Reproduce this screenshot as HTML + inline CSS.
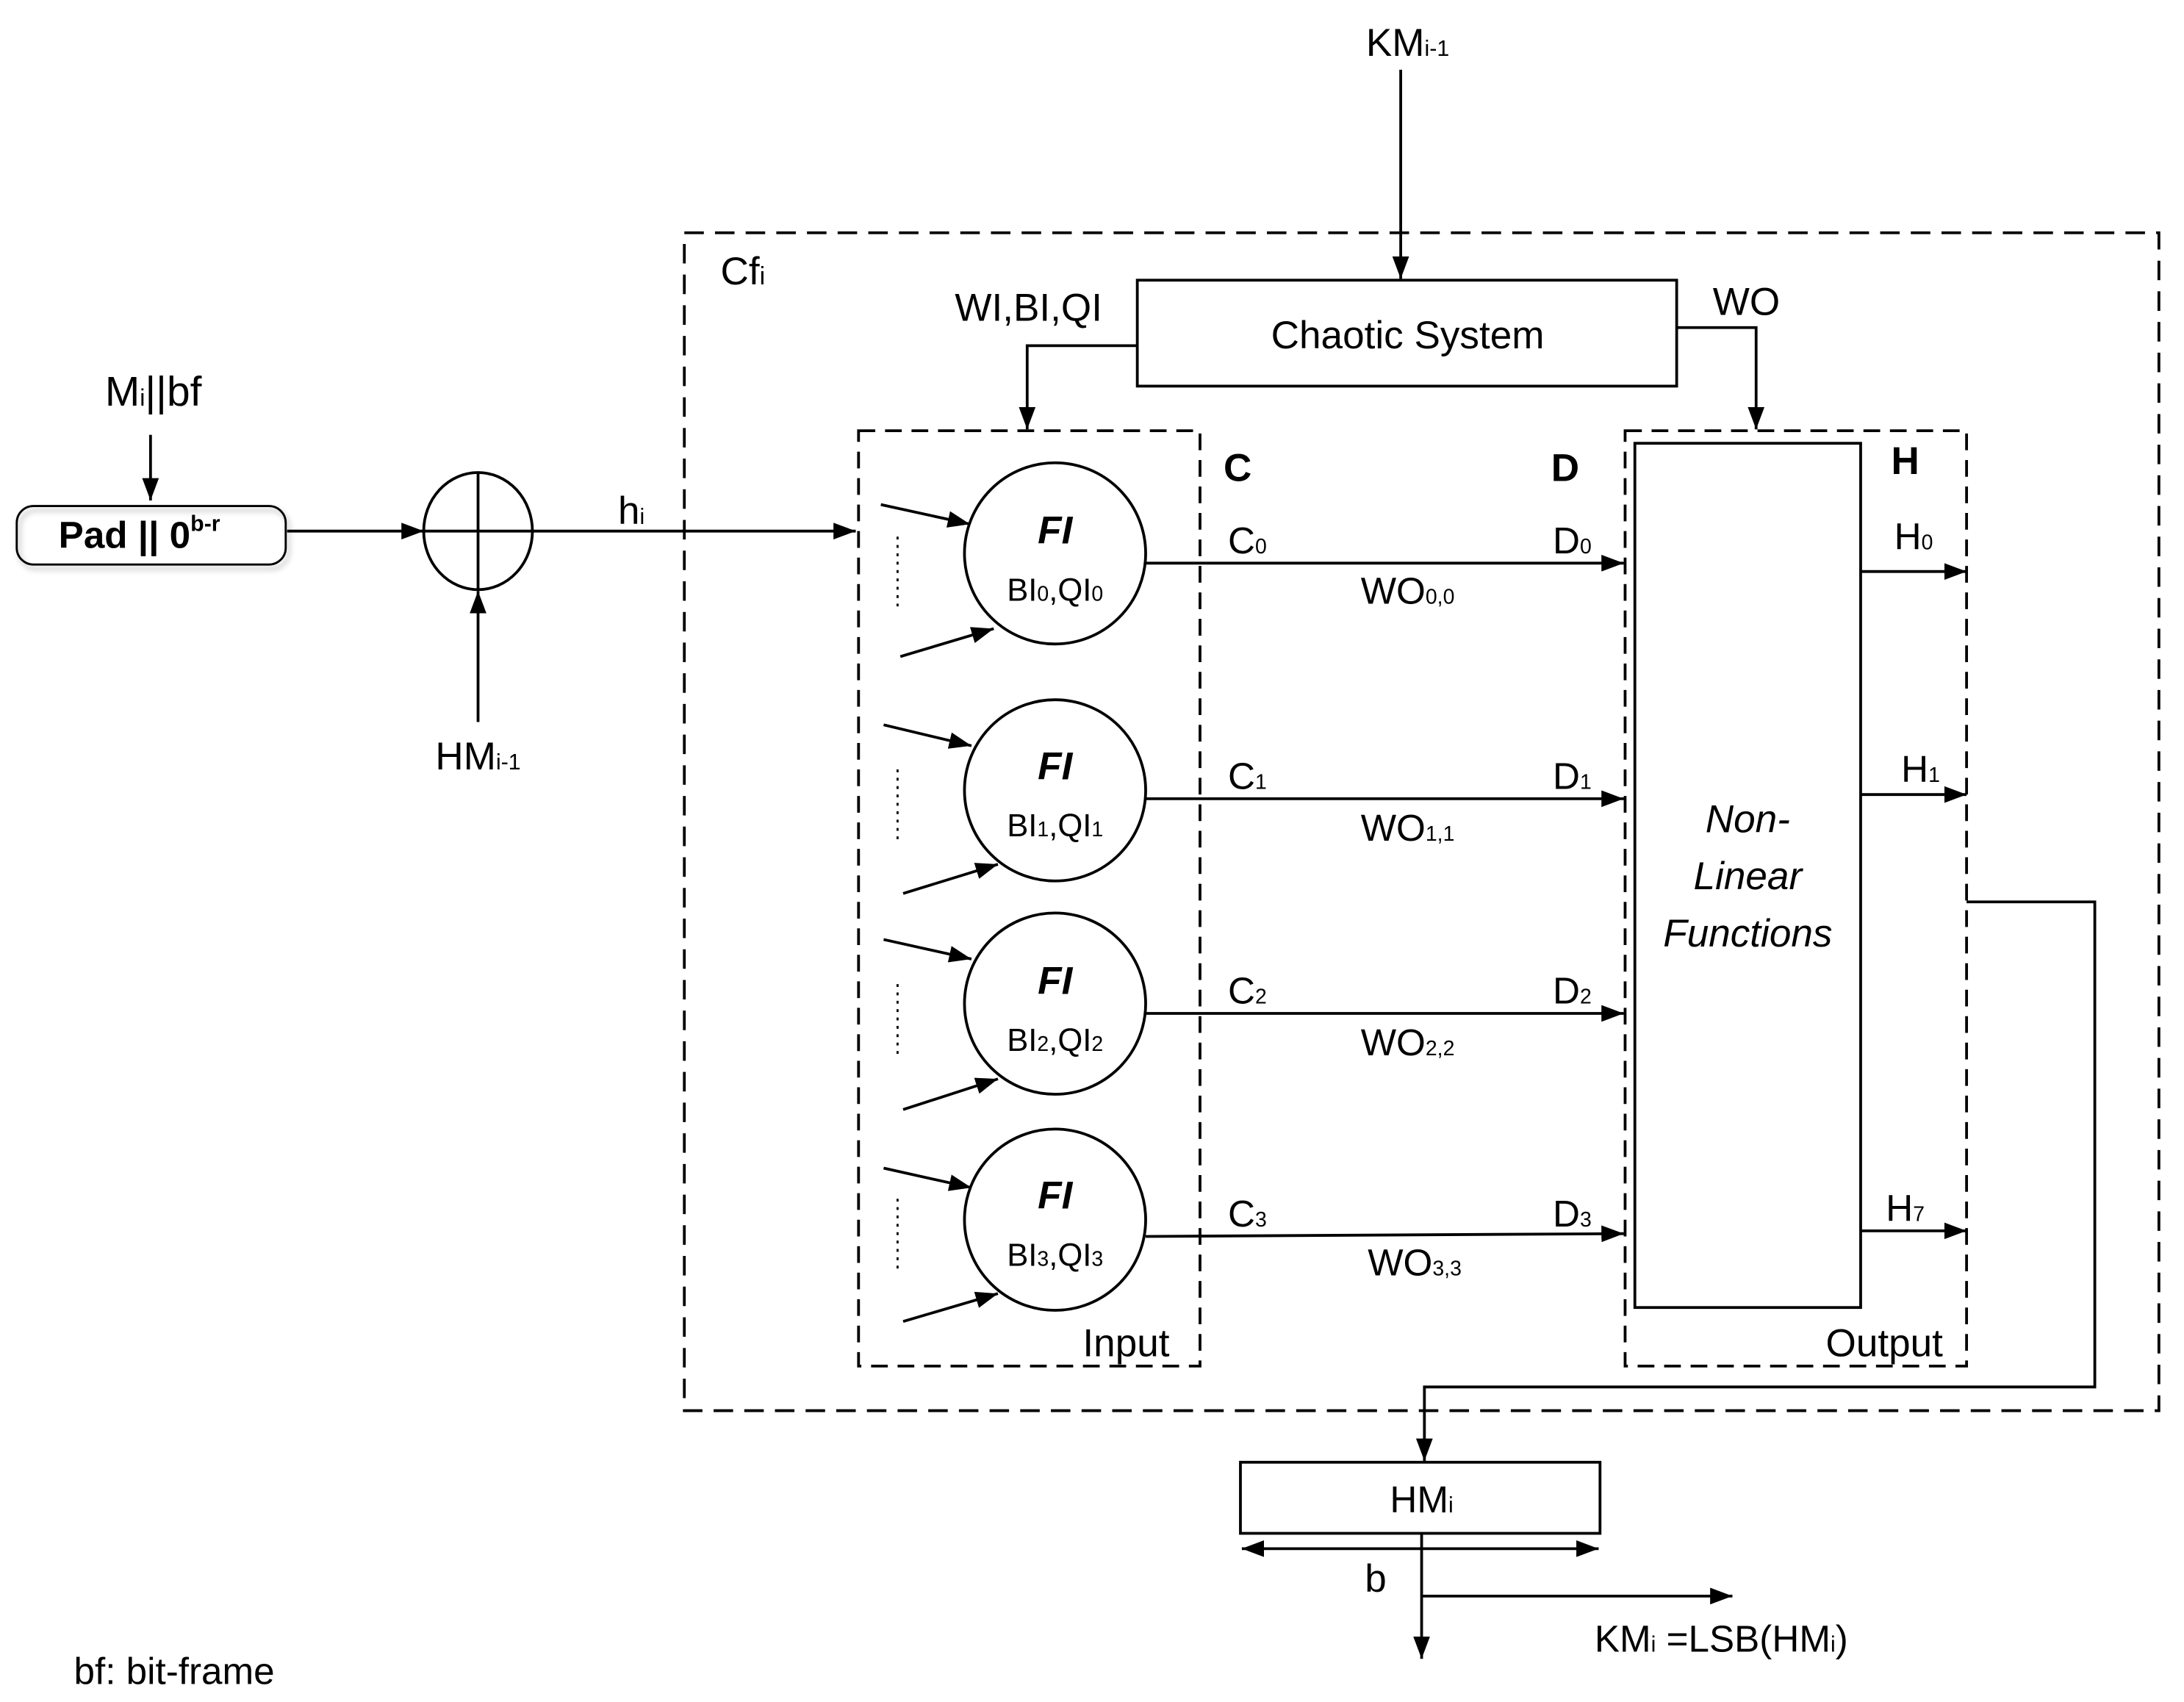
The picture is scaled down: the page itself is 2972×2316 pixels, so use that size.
<!DOCTYPE html>
<html><head><meta charset="utf-8"><style>
html,body{margin:0;padding:0;background:#fff;}
svg{display:block;}
text{font-family:"Liberation Sans",sans-serif;fill:#000;}
</style></head><body>
<svg width="2972" height="2316" viewBox="0 0 1567 1221" preserveAspectRatio="none" xmlns="http://www.w3.org/2000/svg">
<defs>
<marker id="b" markerWidth="16" markerHeight="12" refX="16" refY="6" orient="auto" markerUnits="userSpaceOnUse" viewBox="0 0 16 12">
<path d="M0,0 L16,6 L0,12 z" fill="#000"/></marker>
<marker id="bs" markerWidth="16" markerHeight="12" refX="0" refY="6" orient="auto" markerUnits="userSpaceOnUse" viewBox="0 0 16 12">
<path d="M16,0 L0,6 L16,12 z" fill="#000"/></marker>
<filter id="sh" x="-10%" y="-20%" width="130%" height="160%"><feDropShadow dx="2" dy="3" stdDeviation="2" flood-opacity="0.3"/></filter>
</defs>
<g fill="none" stroke="#000" stroke-width="2">
<rect x="491" y="167" width="1058" height="845" stroke-dasharray="14,8"/>
<rect x="616" y="309" width="245" height="671" stroke-dasharray="12,7"/>
<rect x="1166" y="309" width="245" height="671" stroke-dasharray="12,7"/>
<rect x="1173" y="318" width="162" height="620"/>
<rect x="816" y="201" width="387" height="76"/>
<line x1="1005" y1="50" x2="1005" y2="200" marker-end="url(#b)"/>
<polyline points="816,248 737,248 737,308" marker-end="url(#b)"/>
<polyline points="1203,235 1260,235 1260,308" marker-end="url(#b)"/>
<rect x="12" y="363" width="193" height="42" rx="12" filter="url(#sh)" stroke-width="1.5"/>
<line x1="108" y1="312" x2="108" y2="359" marker-end="url(#b)"/>
<line x1="206" y1="381" x2="304" y2="381" marker-end="url(#b)"/>
<ellipse cx="343" cy="381" rx="39" ry="42"/>
<line x1="304" y1="381" x2="382" y2="381"/>
<line x1="343" y1="339" x2="343" y2="423"/>
<line x1="382" y1="381" x2="614" y2="381" marker-end="url(#b)"/>
<line x1="343" y1="518" x2="343" y2="424" marker-end="url(#b)"/>
<circle cx="757" cy="397" r="65"/>
<circle cx="757" cy="567" r="65"/>
<circle cx="757" cy="720" r="65"/>
<circle cx="757" cy="875" r="65"/>
<line x1="632" y1="362" x2="696" y2="376" marker-end="url(#b)"/>
<line x1="646" y1="471" x2="713" y2="451" marker-end="url(#b)"/>
<line x1="634" y1="520" x2="697" y2="535" marker-end="url(#b)"/>
<line x1="648" y1="641" x2="716" y2="620" marker-end="url(#b)"/>
<line x1="634" y1="674" x2="697" y2="688" marker-end="url(#b)"/>
<line x1="648" y1="796" x2="716" y2="774" marker-end="url(#b)"/>
<line x1="634" y1="838" x2="697" y2="852" marker-end="url(#b)"/>
<line x1="648" y1="948" x2="716" y2="928" marker-end="url(#b)"/>
<g stroke-dasharray="2,4" stroke-width="1.5">
<line x1="644" y1="385" x2="644" y2="438"/>
<line x1="644" y1="552" x2="644" y2="605"/>
<line x1="644" y1="706" x2="644" y2="760"/>
<line x1="644" y1="860" x2="644" y2="914"/>
</g>
<line x1="822" y1="404" x2="1165" y2="404" marker-end="url(#b)"/>
<line x1="822" y1="573" x2="1165" y2="573" marker-end="url(#b)"/>
<line x1="822" y1="727" x2="1165" y2="727" marker-end="url(#b)"/>
<line x1="822" y1="887" x2="1165" y2="885" marker-end="url(#b)"/>
<line x1="1335" y1="410" x2="1411" y2="410" marker-end="url(#b)"/>
<line x1="1335" y1="570" x2="1411" y2="570" marker-end="url(#b)"/>
<line x1="1335" y1="883" x2="1411" y2="883" marker-end="url(#b)"/>
<polyline points="1411,647 1503,647 1503,995 1022,995 1022,1048" marker-end="url(#b)"/>
<rect x="890" y="1049" width="258" height="51"/>
<line x1="891" y1="1111" x2="1147" y2="1111" marker-start="url(#bs)" marker-end="url(#b)"/>
<line x1="1020" y1="1100" x2="1020" y2="1190" marker-end="url(#b)"/>
<line x1="1020" y1="1145" x2="1243" y2="1145" marker-end="url(#b)"/>
</g>
<g font-size="28" text-anchor="middle">
<text x="1010" y="40">KM<tspan font-size="16">i-1</tspan></text>
<text x="1010" y="250">Chaotic System</text>
<text x="738" y="230">WI,BI,QI</text>
<text x="1253" y="226">WO</text>
<text x="533" y="204">Cf<tspan font-size="18">i</tspan></text>
<text x="110" y="291" font-size="30">M<tspan font-size="17">i</tspan>||bf</text>
<text x="100" y="393" font-weight="bold" font-size="27">Pad || 0<tspan font-size="16" dy="-12">b-r</tspan></text>
<text x="453" y="376">h<tspan font-size="16">i</tspan></text>
<text x="343" y="552">HM<tspan font-size="16">i-1</tspan></text>
<text x="888" y="345" font-weight="bold">C</text>
<text x="1123" y="345" font-weight="bold">D</text>
<text x="1367" y="340" font-weight="bold">H</text>
<text x="808" y="973">Input</text>
<text x="1352" y="973">Output</text>
<text x="1254" y="597" font-style="italic">Non-</text>
<text x="1254" y="638" font-style="italic">Linear</text>
<text x="1254" y="679" font-style="italic">Functions</text>
<text x="1020" y="1085" font-size="27">HM<tspan font-size="16">i</tspan></text>
<text x="987" y="1142">b</text>
<text x="1235" y="1185" font-size="27">KM<tspan font-size="16">i</tspan> =LSB(HM<tspan font-size="16">i</tspan>)</text>
<text x="125" y="1208" font-size="27">bf: bit-frame</text>
</g>
<g text-anchor="middle">
<g font-size="28" font-weight="bold" font-style="italic">
<text x="757" y="390">FI</text><text x="757" y="559">FI</text>
<text x="757" y="713">FI</text><text x="757" y="867">FI</text>
</g>
<g font-size="23">
<text x="757" y="431">BI<tspan font-size="15">0</tspan>,QI<tspan font-size="15">0</tspan></text>
<text x="757" y="600">BI<tspan font-size="15">1</tspan>,QI<tspan font-size="15">1</tspan></text>
<text x="757" y="754">BI<tspan font-size="15">2</tspan>,QI<tspan font-size="15">2</tspan></text>
<text x="757" y="908">BI<tspan font-size="15">3</tspan>,QI<tspan font-size="15">3</tspan></text>
</g>
<g font-size="27">
<text x="895" y="397">C<tspan font-size="15">0</tspan></text>
<text x="895" y="566">C<tspan font-size="15">1</tspan></text>
<text x="895" y="720">C<tspan font-size="15">2</tspan></text>
<text x="895" y="880">C<tspan font-size="15">3</tspan></text>
<text x="1128" y="397">D<tspan font-size="15">0</tspan></text>
<text x="1128" y="566">D<tspan font-size="15">1</tspan></text>
<text x="1128" y="720">D<tspan font-size="15">2</tspan></text>
<text x="1128" y="880">D<tspan font-size="15">3</tspan></text>
<text x="1010" y="433">WO<tspan font-size="15">0,0</tspan></text>
<text x="1010" y="603">WO<tspan font-size="15">1,1</tspan></text>
<text x="1010" y="757">WO<tspan font-size="15">2,2</tspan></text>
<text x="1015" y="915">WO<tspan font-size="15">3,3</tspan></text>
<text x="1373" y="394">H<tspan font-size="15">0</tspan></text>
<text x="1378" y="561">H<tspan font-size="15">1</tspan></text>
<text x="1367" y="876">H<tspan font-size="15">7</tspan></text>
</g>
</g>
</svg>
</body></html>
